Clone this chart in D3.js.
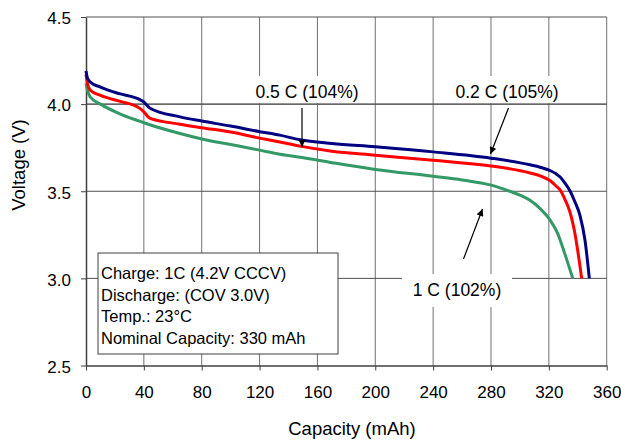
<!DOCTYPE html>
<html><head><meta charset="utf-8">
<script src="https://cdn.jsdelivr.net/npm/d3@7"></script>
<style>body{margin:0;background:#fff}svg{display:block}text{font-family:"Liberation Sans",Arial,sans-serif;fill:#000}</style>
</head><body><svg id="c" width="621" height="440"></svg>
<script>
const xTicks = [0,40,80,120,160,200,240,280,320,360];
const yTicks = [2.5,3.0,3.5,4.0,4.5];
const seriesNames = ["0.2 C (105%)","0.5 C (104%)","1 C (102%)"];
const seriesColors = ["#000080","#ff0000","#339966"];
const blueCap = [0,1,3,10,23,37,40,44,65,80,100,120,134,148,170,200,240,280,307,314,321,325,328,331,335,338,341.5,345,348];
const blueV   = [4.19,4.15,4.126,4.098,4.06,4.027,4.012,3.978,3.927,3.903,3.874,3.842,3.822,3.795,3.774,3.755,3.726,3.69,3.652,3.638,3.618,3.6,3.58,3.548,3.496,3.44,3.362,3.218,3.0];
const redCap  = [0,1,3,10,23,37,40,44,65,80,100,120,134,148,170,200,240,280,307,314,321,325,328,331,334.6,338,342.7];
const redV    = [4.17,4.12,4.08,4.05,4.017,3.977,3.956,3.92,3.885,3.865,3.84,3.805,3.783,3.759,3.73,3.707,3.678,3.645,3.605,3.588,3.56,3.53,3.505,3.455,3.381,3.259,3.0];
const greenCap= [0,1,3,10,23,37,40,65,80,100,120,134,148,170,200,240,260,280,293,300,307,314,321,326,331,336.5];
const greenV  = [4.12,4.08,4.04,4.0,3.946,3.902,3.893,3.831,3.8,3.768,3.736,3.712,3.695,3.664,3.625,3.586,3.565,3.535,3.5,3.478,3.448,3.4,3.333,3.26,3.142,3.0];
const infoLines = ["Charge: 1C (4.2V CCCV)","Discharge: (COV 3.0V)","Temp.: 23°C","Nominal Capacity: 330 mAh"];

const svg = d3.select("#c");
const x = d3.scaleLinear().domain([0,360]).range([86,606.7]);
const y = d3.scaleLinear().domain([2.5,4.5]).range([365.5,17]);

svg.append("defs").append("marker").attr("id","ah").attr("viewBox","0 0 10 10")
  .attr("refX",10).attr("refY",5).attr("markerWidth",9).attr("markerHeight",7)
  .attr("markerUnits","userSpaceOnUse").attr("orient","auto")
  .append("path").attr("d","M0,0L10,5L0,10z").attr("fill","#000");

const g = svg.append("g");
g.selectAll(".vg").data(xTicks.slice(1)).join("line")
  .attr("x1",d=>x(d)).attr("x2",d=>x(d)).attr("y1",y(4.5)).attr("y2",y(2.5))
  .attr("stroke","#707070").attr("stroke-width",1);
g.selectAll(".hg").data(yTicks.slice(1)).join("line")
  .attr("x1",x(0)).attr("x2",x(360)).attr("y1",d=>y(d)).attr("y2",d=>y(d))
  .attr("stroke","#505050").attr("stroke-width",1);

const xAxis = d3.axisBottom(x).tickValues(xTicks).tickSize(5).tickSizeOuter(0).tickFormat(d3.format("d"));
const ax = svg.append("g").attr("transform",`translate(0,${y(2.5)})`).call(xAxis);
ax.select(".domain").attr("stroke","#404040").attr("stroke-width",1.5);
ax.selectAll(".tick line").attr("stroke","#404040");
ax.selectAll("text").attr("font-size",17).attr("dy",0).attr("y",32).style("font-family","Liberation Sans, Arial");
const yAxis = d3.axisLeft(y).tickValues(yTicks).tickSize(5).tickSizeOuter(0).tickFormat(d3.format(".1f"));
const ay = svg.append("g").attr("transform",`translate(${x(0)},0)`).call(yAxis);
ay.select(".domain").attr("stroke","#404040").attr("stroke-width",1.5);
ay.selectAll(".tick line").attr("stroke","#404040");
ay.selectAll("text").attr("font-size",17).attr("x",-15).attr("dy","0.4em").style("font-family","Liberation Sans, Arial");

const labelPos = [[507,98],[307,98],[457,296]];
const lb = svg.append("g");
seriesNames.forEach((n,i)=>{
  lb.append("rect").attr("x",labelPos[i][0]-55).attr("y",labelPos[i][1]-22).attr("width",110).attr("height",i==2?33:27).attr("fill","#fff");
});
svg.append("line").attr("x1",x(0)).attr("x2",x(360)).attr("y1",y(4.0)).attr("y2",y(4.0)).attr("stroke","#505050");

const line = d3.line().x(d=>x(d[0])).y(d=>y(d[1])).curve(d3.curveMonotoneX);
const data = [d3.zip(blueCap,blueV), d3.zip(redCap,redV), d3.zip(greenCap,greenV)];
[2,1,0].forEach(i=>{
  svg.append("path").datum(data[i]).attr("d",line).attr("fill","none")
    .attr("stroke",seriesColors[i]).attr("stroke-width",3).attr("stroke-linejoin","round");
});

seriesNames.forEach((n,i)=>{
  svg.append("text").attr("x",labelPos[i][0]).attr("y",labelPos[i][1]).attr("text-anchor","middle")
    .attr("font-size",17.5).text(n);
});

const arrows = [[[508.5,108],[490.5,154]],[[302,108],[302,147]],[[463.5,259],[482.5,209]]];
arrows.forEach(a=>{
  svg.append("line").attr("x1",a[0][0]).attr("y1",a[0][1]).attr("x2",a[1][0]).attr("y2",a[1][1])
    .attr("stroke","#000").attr("stroke-width",1.2).attr("marker-end","url(#ah)");
});

svg.append("rect").attr("x",98).attr("y",253).attr("width",240).attr("height",101)
  .attr("fill","#fff").attr("stroke","#404040").attr("stroke-width",1);
infoLines.forEach((t,i)=>{
  svg.append("text").attr("x",101).attr("y",279+i*21.6).attr("font-size",16.5).text(t);
});

svg.append("text").attr("x",352).attr("y",435).attr("text-anchor","middle").attr("font-size",18.5).text("Capacity (mAh)");
svg.append("text").attr("transform","translate(25,165) rotate(-90)").attr("text-anchor","middle").attr("font-size",18.5).text("Voltage (V)");
</script></body></html>
